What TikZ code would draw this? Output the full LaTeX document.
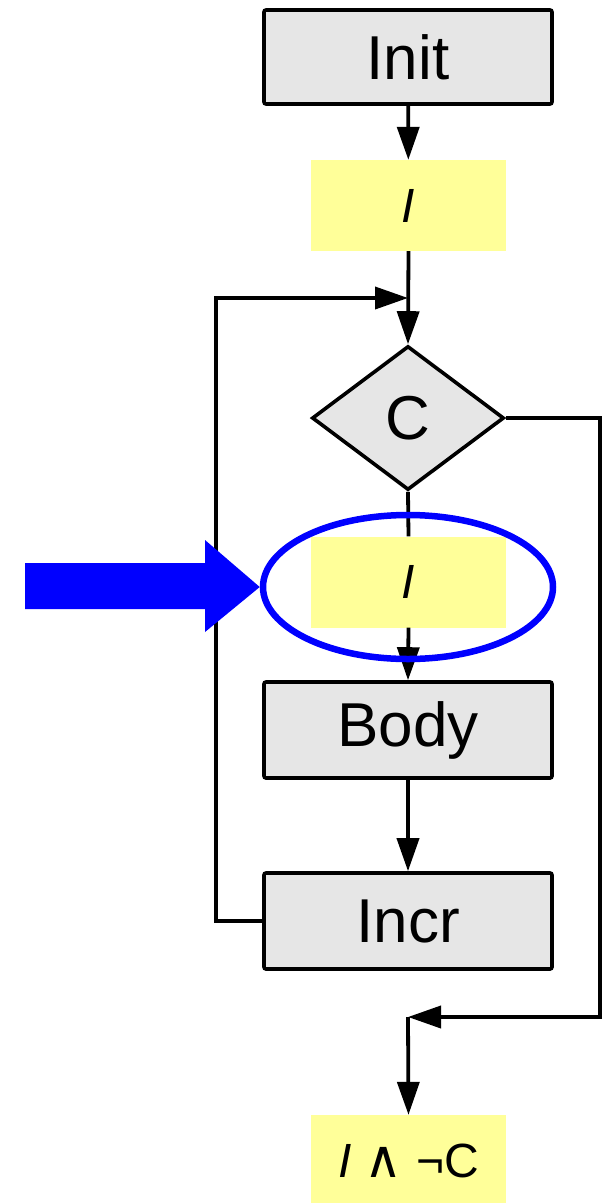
\documentclass[tikz,border=0pt]{standalone}
\usepackage{fontspec}
\setmainfont{Liberation Sans}
\newfontfamily\symfont{DejaVu Sans}
\usetikzlibrary{shapes.geometric,arrows.meta}
\definecolor{boxgray}{HTML}{E6E6E6}
\definecolor{invyellow}{HTML}{FFFF99}
\definecolor{markblue}{HTML}{0000FF}
\tikzset{
  stepbox/.style={draw=black, line width=3.6pt, fill=boxgray, rounded corners=2pt,
    minimum width=288pt, minimum height=94pt, inner sep=0pt,
    font=\fontsize{62}{70}\selectfont},
  invbox/.style={fill=invyellow, draw=none, minimum width=195pt, minimum height=91pt,
    inner sep=0pt, font=\fontsize{48}{54}\selectfont},
  testbox/.style={shape=diamond, draw=black, line width=3.6pt, fill=boxgray,
    minimum width=192pt, minimum height=144pt, inner sep=0pt,
    font=\fontsize{62}{70}\selectfont},
  conn/.style={line width=3.8pt, draw=black},
  arr/.style={conn, -{Triangle[length=33pt, width=22pt]}},
  ring/.style={shape=ellipse, draw=markblue, line width=6.5pt,
    minimum width=290pt, minimum height=144pt, inner sep=0pt}
}
\begin{document}
\begin{tikzpicture}[x=1pt, y=-1pt]
  \useasboundingbox (0,0) rectangle (605,1203);

  % flowchart nodes
  \node[stepbox] (init) at (408,57) {Init};
  \node[invbox] (inv1) at (408.5,205.5) {\itshape I};
  \node[testbox] (cond) at (408,418) {C};
  \node[invbox] (inv2) at (408.5,582) {\itshape I};
  \node[stepbox, minimum height=96pt] (body) at (408,730) {Body};
  \node[stepbox, minimum height=96pt] (incr) at (408,921) {Incr};
  \node[invbox, minimum height=92pt] (inv3) at (408.5,1161)
    {\itshape I\/\upshape\ {\symfont\fontsize{52}{52}\selectfont ∧} ¬C};

  % junction points
  \coordinate (join) at (408,298);
  \coordinate (back) at (216,298);
  \coordinate (exitr) at (600,1017);
  \coordinate (exit) at (408,1017);

  % connectors
  \draw[arr] (init) -- (inv1);
  \draw[arr] (inv1.south) -- (cond.north);
  \draw[conn] (cond.south) -- (inv2.north);
  \draw[arr] (inv2.south) -- (body.north);
  \draw[arr] (body) -- (incr);
  \draw[arr] (incr.west) -| (back) -- (join);
  \draw[arr] (cond.east) -| (exitr) -- (exit);
  \draw[arr] (exit) -- (inv3.north);

  % highlight around the invariant inside the loop
  \node[ring] (mark) at (408,587) {};
  \fill[markblue] (25,563) -- (205,563) -- (205,540) -- (mark.west)
    -- (205,632) -- (205,609) -- (25,609) -- cycle;
\end{tikzpicture}
\end{document}
